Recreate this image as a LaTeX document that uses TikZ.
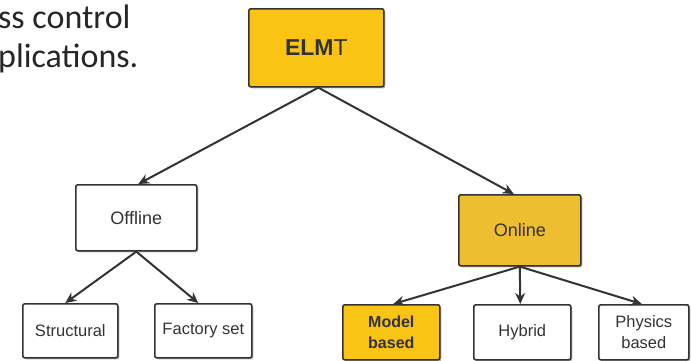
\documentclass[tikz,border=0pt]{standalone}
\usepackage{fontspec}
\setmainfont{Liberation Sans}
\newfontfamily\calib{Carlito}
\usetikzlibrary{arrows.meta,shadows}
\definecolor{elmtyellow}{HTML}{F9C414}
\definecolor{onyellow}{HTML}{EDBE30}
\definecolor{edgegray}{HTML}{333333}
\tikzset{
  box/.style={draw=edgegray, line width=1.6pt, rounded corners=2pt, fill=white,
    drop shadow={shadow xshift=1.5pt, shadow yshift=-1.5pt, opacity=0.6, fill=gray},
    align=center, inner sep=0pt, anchor=north west, text=black!80},
  conn/.style={draw=edgegray, line width=2pt, -{Stealth[length=11pt,width=10pt]}},
}
\begin{document}
\begin{tikzpicture}[x=1pt,y=-1pt]
\useasboundingbox (0,0) rectangle (691,360);
\node[anchor=base west, inner sep=0pt, font=\calib\fontsize{34}{40}\selectfont, text=black!85] (t1) at (-2,28) {ss control};
\node[anchor=base west, inner sep=0pt, font=\calib\fontsize{34}{40}\selectfont, text=black!85] (t2) at (-2,67) {plications.};
\node[box, fill=elmtyellow, minimum width=135pt, minimum height=78pt, font=\fontsize{23}{26}\selectfont] (elmt) at (248,8) {\textbf{ELM}T};
\node[box, minimum width=121pt, minimum height=66pt, font=\fontsize{18}{21}\selectfont] (off) at (75,184) {Offline};
\node[box, fill=onyellow, minimum width=122pt, minimum height=71pt, font=\fontsize{18}{21}\selectfont] (on) at (458,194) {Online};
\node[box, minimum width=95pt, minimum height=54pt, font=\fontsize{16.5}{19}\selectfont] (str) at (22,303) {Structural};
\node[box, minimum width=97pt, minimum height=54pt, font=\fontsize{16.5}{19}\selectfont] (fac) at (154,303) {Factory set};
\node[box, fill=elmtyellow, minimum width=97pt, minimum height=55pt, font=\bfseries\fontsize{16}{21}\selectfont] (mod) at (342,304) {Model\\based};
\node[box, minimum width=97pt, minimum height=55pt, font=\fontsize{16.5}{21}\selectfont] (hyb) at (473,304) {Hybrid};
\node[box, minimum width=90pt, minimum height=55pt, font=\fontsize{16.5}{21}\selectfont] (phy) at (598,304) {Physics\\based};
\draw[conn] ([xshift=2pt]elmt.south) -- ([xshift=2pt]off.north);
\draw[conn] ([xshift=2pt]elmt.south) -- ([xshift=-6pt]on.north);
\draw[conn] (off.south) -- ([xshift=-5pt]str.north);
\draw[conn] (off.south) -- ([xshift=-5pt]fac.north);
\draw[conn] (on.south) -- ([xshift=2pt]mod.north);
\draw[conn] (on.south) -- ([xshift=-2pt]hyb.north);
\draw[conn] (on.south) -- ([xshift=-2pt]phy.north);
\end{tikzpicture}
\end{document}
